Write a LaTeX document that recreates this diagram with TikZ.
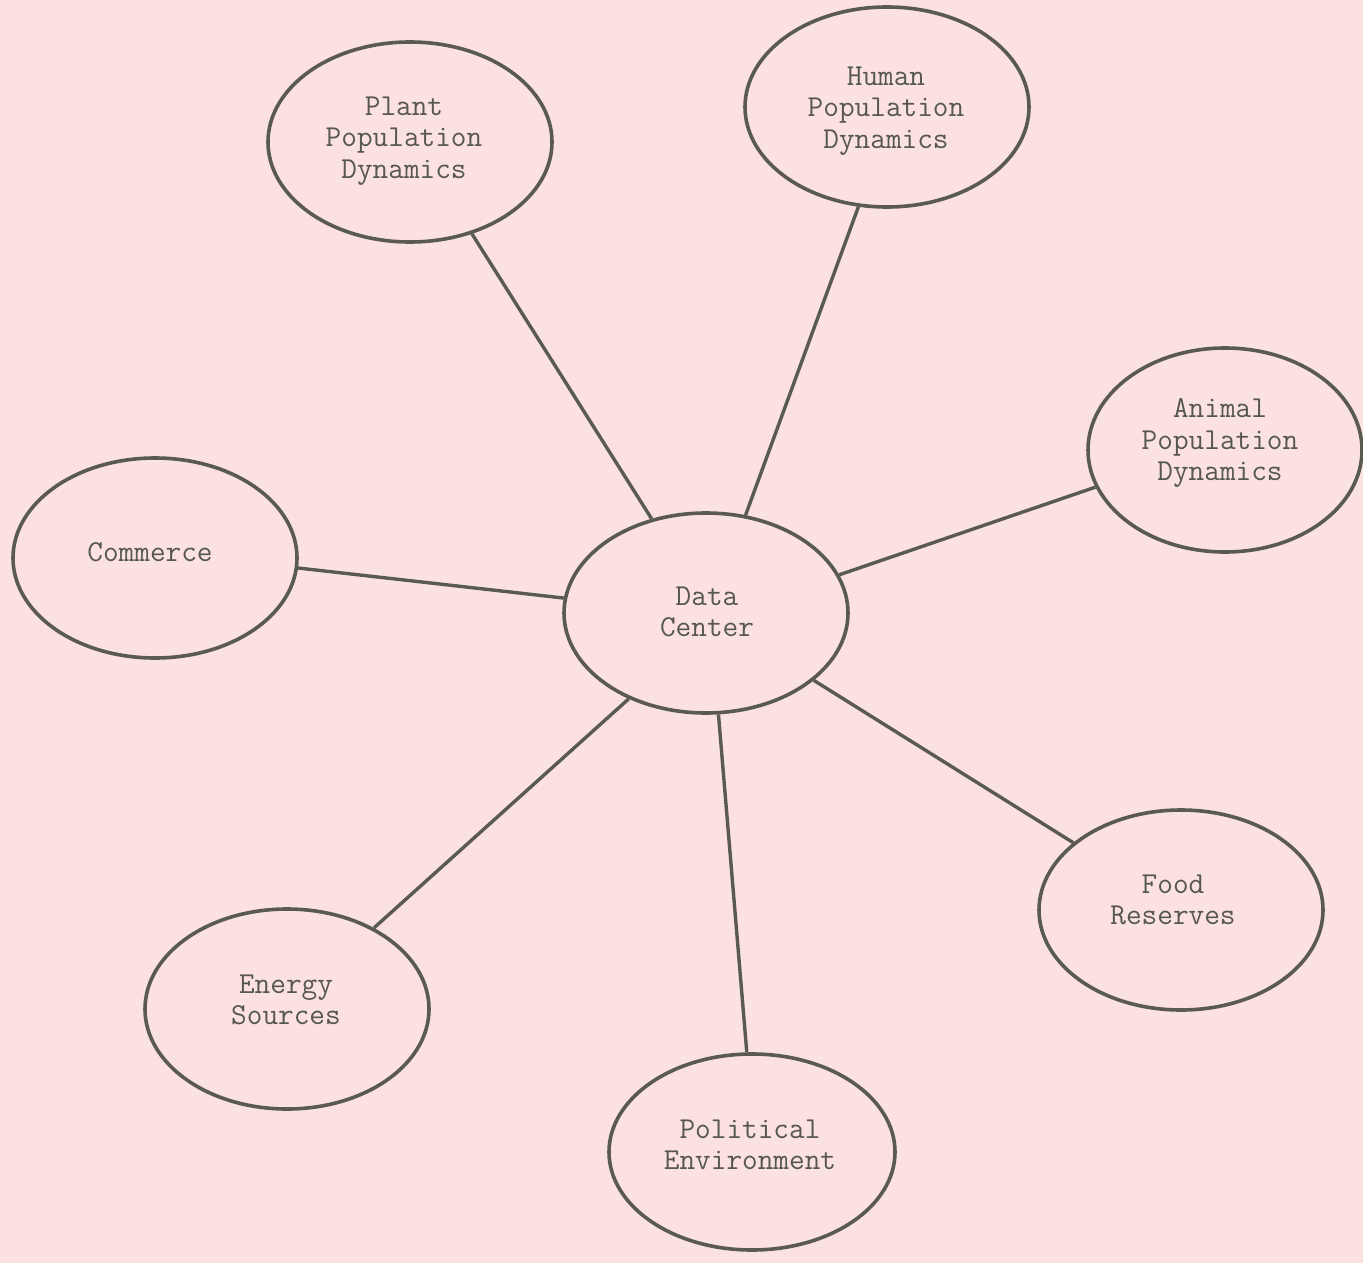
\documentclass[tikz,border=0pt]{standalone}
\usepackage{fontspec}
\usetikzlibrary{shapes.geometric}
\definecolor{bgpink}{HTML}{FBE1E1}
\definecolor{inkgray}{HTML}{5A5A52}
\definecolor{txtgray}{HTML}{575752}
\tikzset{
  bubble/.style={ellipse, draw=inkgray, line width=1.8pt, minimum width=142pt, minimum height=100pt,
    inner sep=0pt},
  caption/.style={align=center, text=txtgray, inner sep=0pt,
    font=\ttfamily\fontsize{15.2}{15.75}\selectfont},
  link/.style={draw=inkgray, line width=1.7pt}
}
\begin{document}
\begin{tikzpicture}[x=0.5pt,y=-0.5pt]
\fill[bgpink] (0,0) rectangle (1363,1263);
\useasboundingbox (0,0) rectangle (1363,1263);
% ellipses
\node[bubble] (dc) at (706,613) {};
\node[bubble] (plant) at (410,142) {};
\node[bubble] (human) at (887,107) {};
\node[bubble, minimum width=137pt, minimum height=102pt] (animal) at (1225,450) {};
\node[bubble] (commerce) at (155,558) {};
\node[bubble] (food) at (1181,910) {};
\node[bubble] (energy) at (287,1009) {};
\node[bubble, minimum width=143pt, minimum height=98pt] (political) at (752,1152) {};
% texts
\node[caption] (dc-t) at (707,612) {Data\\Center};
\node[caption] (plant-t) at (404,141) {Plant\\Population\\Dynamics};
\node[caption] (human-t) at (886,111) {Human\\Population\\Dynamics};
\node[caption] (animal-t) at (1220,443) {Animal\\Population\\Dynamics};
\node[caption] (commerce-t) at (150,552) {Commerce};
\node[caption] (food-t) at (1173,900) {Food\\Reserves};
\node[caption] (energy-t) at (286,1000) {Energy\\Sources};
\node[caption] (political-t) at (750,1145) {Political\\Environment};
% connectors
\draw[link] (plant.-56.6) -- (dc.120.5);
\draw[link] (human.254.3) -- (dc.68.3);
\draw[link] (animal.196.5) -- (dc.16.9);
\draw[link] (commerce.-4.9) -- (dc.174.8);
\draw[link] (food.148.6) -- (dc.-32.3);
\draw[link] (energy.43) -- (dc.228.5);
\draw[link] (political.93.5) -- (dc.277.5);
\end{tikzpicture}
\end{document}
